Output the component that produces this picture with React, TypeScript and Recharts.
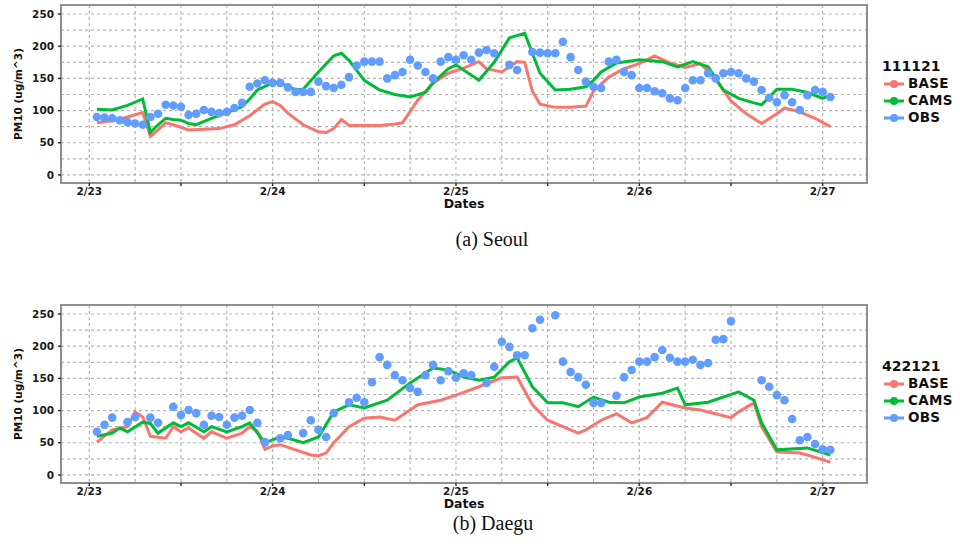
import React from 'react';
import {
  ComposedChart,
  Line,
  Scatter,
  XAxis,
  YAxis,
  CartesianGrid,
  ReferenceArea,
  Legend,
} from 'recharts';

// ---------- axis / category data ----------
const dateTickHours = [0, 12, 24, 36, 48, 60, 72, 84, 96];
const dateLabels = ['2/23', '', '2/24', '', '2/25', '', '2/26', '', '2/27'];
const gridHours = [0, 6, 12, 18, 24, 30, 36, 42, 48, 54, 60, 66, 72, 78, 84, 90, 96];
const valueTicks = [0, 50, 100, 150, 200, 250];
const gridValues = [0, 25, 50, 75, 100, 125, 150, 175, 200, 225, 250];
const seriesNames = ['BASE', 'CAMS', 'OBS'];
const seriesColors = ['#F8766D', '#00BA38', '#619CFF'];

// ---------- Seoul (111121) ----------
const seoulBaseHours = [1, 3, 5, 7, 8, 9, 10, 11, 13, 15, 17, 19, 21, 23, 24, 25, 26, 28, 30, 31, 32, 33, 34, 36, 38, 40, 41, 43, 45, 47, 49, 51, 52, 54, 56, 57, 58, 59, 61, 63, 65, 66, 68, 70, 72, 74, 76, 78, 80, 82, 84, 86, 88, 90, 91, 93, 95, 97];
const seoulBaseValues = [81, 84, 90, 97, 60, 70, 81, 78, 70, 71, 72, 78, 92, 110, 114, 108, 96, 78, 67, 66, 72, 86, 77, 77, 77, 79, 81, 116, 143, 158, 166, 176, 165, 160, 176, 175, 130, 110, 105, 105, 107, 130, 152, 165, 173, 185, 174, 167, 173, 148, 115, 95, 80, 95, 104, 98, 88, 75];

const seoulCamsHours = [1, 3, 5, 7, 8, 9, 10, 11, 12, 13, 14, 16, 18, 20, 21, 22, 24, 25, 26, 27, 28, 30, 32, 33, 34, 36, 38, 40, 42, 44, 45, 47, 48, 49, 51, 53, 55, 57, 59, 61, 63, 65, 66, 67, 69, 72, 75, 77, 79, 81, 83, 85, 87, 88, 90, 92, 94, 96, 97];
const seoulCamsValues = [102, 101, 108, 118, 66, 78, 88, 86, 85, 80, 78, 88, 97, 106, 118, 132, 143, 143, 138, 132, 133, 160, 185, 189, 178, 147, 132, 125, 121, 128, 143, 165, 171, 163, 147, 175, 213, 220, 158, 132, 133, 137, 147, 160, 174, 179, 176, 168, 176, 168, 132, 119, 112, 109, 133, 133, 128, 119, 124];

const seoulObsHours = [1, 2, 3, 4, 5, 6, 7, 8, 9, 10, 11, 12, 13, 14, 15, 16, 17, 18, 19, 20, 21, 22, 23, 24, 25, 26, 27, 28, 29, 30, 31, 32, 33, 34, 35, 36, 37, 38, 39, 40, 41, 42, 43, 44, 45, 46, 47, 48, 49, 50, 51, 52, 53, 55, 56, 58, 59, 60, 61, 62, 63, 64, 65, 66, 67, 68, 69, 70, 71, 72, 73, 74, 75, 76, 77, 78, 79, 80, 81, 82, 83, 84, 85, 86, 87, 88, 89, 90, 91, 92, 93, 94, 95, 96, 97];
const seoulObsValues = [90, 89, 88, 85, 82, 80, 78, 90, 95, 109, 108, 106, 93, 95, 101, 98, 96, 98, 104, 112, 137, 142, 147, 143, 143, 136, 129, 129, 129, 145, 138, 135, 140, 152, 170, 176, 176, 176, 150, 155, 160, 179, 170, 160, 150, 176, 183, 179, 186, 179, 190, 194, 189, 171, 163, 191, 190, 189, 189, 207, 183, 163, 145, 137, 135, 176, 179, 160, 155, 135, 135, 130, 127, 119, 116, 135, 147, 147, 158, 150, 158, 160, 158, 150, 145, 132, 120, 113, 124, 113, 101, 124, 132, 129, 121];

// ---------- Daegu (422121) ----------
const daeguBaseHours = [1, 3, 5, 6, 7, 8, 10, 11, 12, 13, 15, 16, 18, 20, 21, 22, 23, 24, 25, 27, 29, 30, 31, 32, 34, 36, 38, 40, 43, 46, 48, 51, 54, 56, 58, 60, 62, 64, 65, 67, 69, 71, 73, 75, 78, 80, 84, 85, 87, 88, 90, 93, 94, 97];
const daeguBaseValues = [51, 70, 75, 98, 90, 60, 57, 75, 67, 73, 57, 67, 57, 65, 75, 68, 40, 45, 47, 39, 31, 30, 34, 50, 75, 88, 90, 85, 109, 116, 124, 137, 151, 152, 109, 85, 75, 65, 70, 85, 95, 81, 89, 113, 104, 101, 89, 98, 112, 75, 36, 34, 31, 20];

const daeguCamsHours = [1, 3, 4, 5, 7, 8, 9, 11, 12, 13, 15, 16, 18, 20, 21, 23, 25, 26, 28, 30, 32, 34, 36, 39, 42, 45, 47, 49, 51, 53, 55, 56, 58, 60, 62, 64, 66, 68, 70, 72, 75, 77, 78, 81, 85, 87, 88, 90, 94, 97];
const daeguCamsValues = [60, 65, 73, 67, 82, 80, 65, 81, 75, 81, 67, 75, 67, 75, 81, 50, 59, 57, 50, 59, 98, 109, 104, 116, 143, 166, 163, 152, 147, 152, 176, 182, 137, 112, 112, 106, 121, 113, 112, 121, 127, 135, 109, 113, 129, 116, 81, 39, 42, 31];

const daeguObsHours = [1, 2, 3, 5, 6, 8, 9, 11, 12, 13, 14, 15, 16, 17, 18, 19, 20, 21, 22, 23, 25, 26, 28, 29, 30, 31, 32, 34, 35, 36, 37, 38, 39, 40, 41, 42, 43, 44, 45, 46, 47, 48, 49, 50, 52, 53, 54, 55, 56, 57, 58, 59, 61, 62, 63, 64, 65, 66, 67, 69, 70, 71, 72, 73, 74, 75, 76, 77, 78, 79, 80, 81, 82, 83, 84, 88, 89, 90, 91, 92, 93, 94, 95, 96, 97];
const daeguObsValues = [67, 78, 89, 82, 90, 89, 81, 106, 93, 101, 96, 78, 92, 90, 78, 89, 92, 101, 81, 51, 57, 62, 65, 85, 70, 59, 96, 113, 120, 113, 144, 183, 171, 155, 147, 135, 129, 155, 171, 147, 161, 151, 158, 155, 143, 168, 207, 199, 186, 186, 228, 241, 248, 176, 160, 152, 140, 112, 112, 123, 152, 163, 176, 176, 183, 194, 182, 176, 176, 179, 171, 174, 210, 211, 239, 147, 137, 124, 116, 87, 54, 59, 48, 40, 39];

// ---------- helpers ----------
const X_MIN = -3.7;
const X_MAX = 101.8;
const Y_MIN = -12.5;
const Y_MAX = 264;
const TXT = '"DejaVu Sans", "Liberation Sans", sans-serif';

const zip = (hours: number[], values: number[]) => hours.map((h, i) => ({ h, v: values[i] }));

const LegendBox = ({ station }: { station: string }) => (
  <div style={{ fontFamily: TXT, fontWeight: 'bold', color: '#111' }}>
    <div style={{ fontSize: 14, lineHeight: '17px', height: 17 }}>{station}</div>
    {seriesNames.map((n, i) => (
      <div key={n} style={{ display: 'flex', alignItems: 'center', height: 17, fontSize: 13.5, lineHeight: '17px' }}>
        <svg width={24} height={12} style={{ marginRight: 2 }}>
          <line x1={2} y1={6} x2={22} y2={6} stroke={seriesColors[i]} strokeWidth={3} />
          <circle cx={12} cy={6} r={4} fill={seriesColors[i]} />
        </svg>
        <span style={{ letterSpacing: 0.3 }}>{n}</span>
      </div>
    ))}
  </div>
);

const tickStyle = { fontFamily: TXT, fontSize: 10.5, fontWeight: 'bold', fill: '#1a1a1a' };

function Panel({ station, base, cams, obs }: { station: string; base: any[]; cams: any[]; obs: any[] }) {
  return (
    <ComposedChart width={960} height={215} margin={{ top: 5, right: 7, bottom: 10, left: 16 }}>
      <CartesianGrid
        stroke="#b5b5b5"
        strokeDasharray="3 3"
        strokeWidth={1.2}
        verticalValues={gridHours}
        horizontalValues={gridValues}
      />
      <ReferenceArea x1={X_MIN} x2={X_MAX} y1={Y_MIN} y2={Y_MAX} fill="none" stroke="#8e8e8e" strokeWidth={2} ifOverflow="visible" />
      <XAxis
        type="number"
        dataKey="h"
        domain={[X_MIN, X_MAX]}
        allowDataOverflow
        ticks={dateTickHours}
        interval={0}
        tickFormatter={(h: number) => dateLabels[dateTickHours.indexOf(h)] ?? ''}
        axisLine={false}
        tickLine={{ stroke: '#333', strokeWidth: 1.5 }}
        tickSize={3}
        tickMargin={2}
        height={22}
        tick={tickStyle}
        label={{ value: 'Dates', position: 'bottom', offset: -6, style: { fontFamily: TXT, fontSize: 12.5, fontWeight: 'bold', fill: '#111' } }}
      />
      <YAxis
        type="number"
        domain={[Y_MIN, Y_MAX]}
        allowDataOverflow
        ticks={valueTicks}
        interval={0}
        axisLine={false}
        tickLine={{ stroke: '#333', strokeWidth: 1.5 }}
        tickSize={3}
        tickMargin={4}
        width={45}
        tick={tickStyle}
        label={{ value: 'PM10 (ug/m^3)', angle: -90, position: 'insideLeft', offset: 2, style: { textAnchor: 'middle', fontFamily: TXT, fontSize: 10.5, fontWeight: 'bold', fill: '#111' } }}
      />
      <Scatter
        name="OBS"
        data={obs}
        dataKey="v"
        fill={seriesColors[2]}
        isAnimationActive={false}
        shape={(p: any) => <circle cx={p.cx} cy={p.cy} r={4.3} fill={seriesColors[2]} />}
      />
      <Line name="BASE" data={base} dataKey="v" type="linear" stroke={seriesColors[0]} strokeWidth={3} dot={false} isAnimationActive={false} />
      <Line name="CAMS" data={cams} dataKey="v" type="linear" stroke={seriesColors[1]} strokeWidth={3} dot={false} isAnimationActive={false} />
      <Legend
        layout="vertical"
        align="right"
        verticalAlign="top"
        width={86}
        wrapperStyle={{ left: 882, top: 58, right: 'auto' }}
        content={() => <LegendBox station={station} />}
      />
    </ComposedChart>
  );
}

const captionStyle: React.CSSProperties = {
  position: 'absolute',
  width: 240,
  textAlign: 'center',
  fontFamily: '"Liberation Serif", "Times New Roman", serif',
  fontSize: 20,
  lineHeight: '24px',
  color: '#111',
};

export default function App() {
  return (
    <div style={{ position: 'absolute', left: 0, top: 0, width: 960, height: 550, background: '#fff', overflow: 'hidden' }}>
      <div style={{ position: 'absolute', left: 0, top: 0 }}>
        <Panel
          station="111121"
          base={zip(seoulBaseHours, seoulBaseValues)}
          cams={zip(seoulCamsHours, seoulCamsValues)}
          obs={zip(seoulObsHours, seoulObsValues)}
        />
      </div>
      <div style={{ ...captionStyle, left: 372, top: 227 }}>(a) Seoul</div>
      <div style={{ position: 'absolute', left: 0, top: 300 }}>
        <Panel
          station="422121"
          base={zip(daeguBaseHours, daeguBaseValues)}
          cams={zip(daeguCamsHours, daeguCamsValues)}
          obs={zip(daeguObsHours, daeguObsValues)}
        />
      </div>
      <div style={{ ...captionStyle, left: 373, top: 511 }}>(b) Daegu</div>
    </div>
  );
}
